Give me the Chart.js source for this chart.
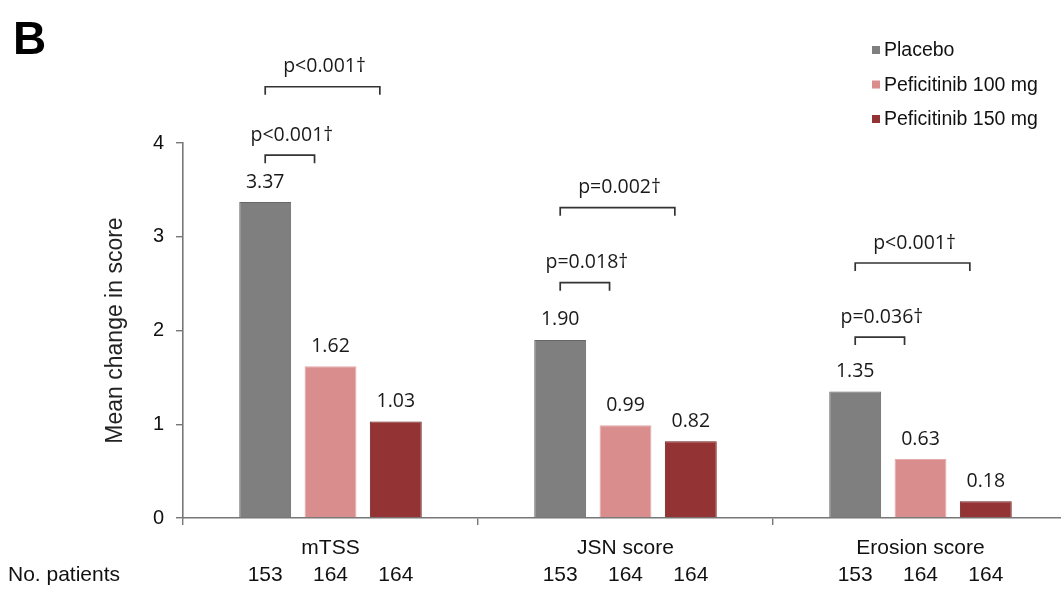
<!DOCTYPE html>
<html lang="en">
<head>
  <meta charset="utf-8">
  <title>Mean change in score</title>
  <script src="https://cdn.jsdelivr.net/npm/chart.js@4/dist/chart.umd.min.js"></script>
  <style>
    body { margin: 0; background: #fff; overflow: hidden; }
    #wrap { width: 1075px; height: 611px; }
  </style>
</head>
<body>
<div id="wrap"><canvas id="mycanvas" width="1075" height="611"></canvas></div>

<script>
// categories and values
const categories = ['mTSS', 'JSN score', 'Erosion score'];
const seriesNames = ['Placebo', 'Peficitinib 100 mg', 'Peficitinib 150 mg'];
const placebo = [3.37, 1.90, 1.35];
const pef100  = [1.62, 0.99, 0.63];
const pef150  = [1.03, 0.82, 0.18];
// number of patients per bar
const placeboN = [153, 153, 153];
const pef100N  = [164, 164, 164];
const pef150N  = [164, 164, 164];
// p-values vs placebo: [vs 100 mg, vs 150 mg]
const pVs100 = ['p<0.001†', 'p=0.018†', 'p=0.036†'];
const pVs150 = ['p<0.001†', 'p=0.002†', 'p<0.001†'];
// bracket heights (in score units)
const brLow  = [3.87, 2.51, 1.93];
const brHigh = [4.60, 3.31, 2.72];
const yTicks = [0, 1, 2, 3, 4];

const colors  = ['#7f7f7f', '#d98d8d', '#943333'];
const borders = ['#666666', '#e6a9a9', '#701f1f'];

const numFont = '19.5px "Open Sans", sans-serif';
const txtFont = '"Liberation Sans", Arial, sans-serif';

const overlay = {
  id: 'overlay',
  afterDatasetsDraw(chart) {
    const ctx = chart.ctx;
    const metas = [0, 1, 2].map(i => chart.getDatasetMeta(i));
    const values = [placebo, pef100, pef150];
    const counts = [placeboN, pef100N, pef150N];
    const ys = chart.scales.y;
    ctx.save();

    // value labels above bars
    ctx.font = numFont;
    ctx.fillStyle = '#1a1a1a';
    ctx.textAlign = 'center';
    ctx.textBaseline = 'middle';
    metas.forEach((m, s) => {
      m.data.forEach((bar, i) => {
        ctx.fillText(values[s][i].toFixed(2), bar.x, bar.y - 20);
      });
    });

    // significance brackets
    ctx.strokeStyle = '#333';
    ctx.lineWidth = 1.7;
    function bracket(x1, x2, y, label) {
      ctx.beginPath();
      ctx.moveTo(x1, y + 8);
      ctx.lineTo(x1, y);
      ctx.lineTo(x2, y);
      ctx.lineTo(x2, y + 8);
      ctx.stroke();
      ctx.fillText(label, (x1 + x2) / 2 + 2, y - 20);
    }
    categories.forEach((c, i) => {
      const p = metas[0].data[i];
      const b1 = metas[1].data[i];
      const b2 = metas[2].data[i];
      bracket(p.x, b1.x - b1.width / 2 + 10, ys.getPixelForValue(brLow[i]), pVs100[i]);
      bracket(p.x, b2.x - b2.width / 2 + 10, ys.getPixelForValue(brHigh[i]), pVs150[i]);
    });

    // patient counts
    ctx.font = '21px ' + txtFont;
    ctx.fillStyle = '#111';
    metas.forEach((m, s) => {
      m.data.forEach((bar, i) => {
        ctx.fillText(String(counts[s][i]), bar.x, 575);
      });
    });
    ctx.textAlign = 'left';
    ctx.fillText('No. patients', 8, 575);

    // panel letter
    ctx.font = 'bold 46px ' + txtFont;
    ctx.fillStyle = '#000';
    ctx.textBaseline = 'alphabetic';
    ctx.fillText('B', 13, 54);

    // legend
    ctx.font = '19.5px ' + txtFont;
    ctx.textBaseline = 'middle';
    seriesNames.forEach((name, s) => {
      const y = 50 + s * 34.5;
      ctx.fillStyle = colors[s];
      ctx.fillRect(872, y - 4, 8, 8);
      ctx.fillStyle = '#111';
      ctx.fillText(name, 884, y + 1);
    });
    ctx.restore();
  }
};

const ctx_live = document.getElementById('mycanvas');
const myChart = new Chart(ctx_live, {
  type: 'bar',
  data: {
    labels: categories,
    datasets: [placebo, pef100, pef150].map((d, s) => ({
      label: seriesNames[s],
      data: d,
      backgroundColor: colors[s],
      borderColor: borders[s],
      borderWidth: 1,
      categoryPercentage: 0.664,
      barPercentage: 0.795
    }))
  },
  options: {
    responsive: false,
    animation: false,
    layout: { padding: { left: 0, top: 143, right: 7, bottom: 0 } },
    scales: {
      x: {
        grid: { drawOnChartArea: false, tickLength: 7, color: '#777', lineWidth: 1.4 },
        border: { color: '#777', width: 1.6 },
        ticks: { color: '#111', font: { size: 21, family: txtFont }, padding: 11 },
        afterFit(scale) { scale.height = 93; }
      },
      y: {
        min: 0,
        max: 4,
        afterBuildTicks(scale) { scale.ticks = yTicks.map(v => ({ value: v })); },
        grid: { drawOnChartArea: false, tickLength: 7, color: '#777', lineWidth: 1.4 },
        border: { color: '#777', width: 1.6 },
        ticks: { color: '#111', font: { size: 20, family: txtFont }, padding: 12 },
        title: {
          display: true,
          text: 'Mean change in score',
          color: '#222',
          font: { size: 23, family: txtFont },
          padding: { top: 102, bottom: 0 }
        },
        afterFit(scale) { scale.width = 183; }
      }
    },
    plugins: {
      legend: { display: false },
      tooltip: { enabled: false }
    }
  },
  plugins: [overlay]
});
</script>
</body>
</html>
